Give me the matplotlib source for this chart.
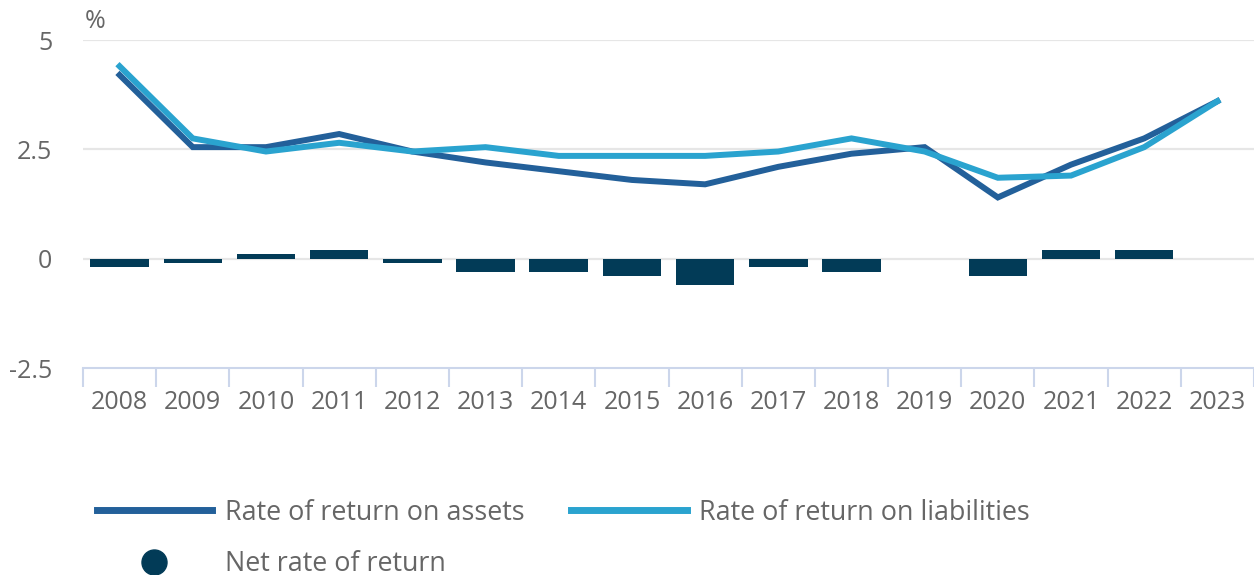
import numpy as np
import matplotlib
matplotlib.use('Agg')
import matplotlib.pyplot as plt
from matplotlib.lines import Line2D

plt.rcParams['font.family'] = ['Open Sans', 'DejaVu Sans']
plt.rcParams['font.size'] = 18

years = ['2008', '2009', '2010', '2011', '2012', '2013', '2014', '2015',
         '2016', '2017', '2018', '2019', '2020', '2021', '2022', '2023']
assets = [4.2, 2.55, 2.55, 2.85, 2.45, 2.2, 2.0, 1.8, 1.7, 2.1, 2.4, 2.55, 1.4, 2.15, 2.75, 3.6]
liabilities = [4.4, 2.75, 2.45, 2.65, 2.45, 2.55, 2.35, 2.35, 2.35, 2.45, 2.75, 2.45, 1.85, 1.9, 2.55, 3.6]
net = [-0.2, -0.1, 0.1, 0.2, -0.1, -0.3, -0.3, -0.4, -0.6, -0.2, -0.3, 0.0, -0.4, 0.2, 0.2, np.nan]

c_assets = '#23609a'
c_liab = '#2aa3cf'
c_net = '#023b57'
grid_c = '#e6e6e6'
axis_c = '#ccd6eb'
text_c = '#666666'

fig = plt.figure(figsize=(12.54, 5.75), dpi=100)
ax = fig.add_axes([83/1254, 1 - 368/575, 1 - 83/1254, (368 - 40)/575])

x = np.arange(len(years))

ax.bar(x, net, width=0.8, color=c_net, zorder=2)
ax.plot(x, assets, color=c_assets, lw=4.3, zorder=3, solid_joinstyle='miter')
ax.plot(x, liabilities, color=c_liab, lw=4.3, zorder=4, solid_joinstyle='miter')

ax.set_xlim(-0.5, len(years) - 0.5)
ax.set_ylim(-2.5, 5)
ax.set_yticks([-2.5, 0, 2.5, 5])
ax.set_yticklabels(['-2.5', '0', '2.5', '5'])
for yv in [0, 2.5, 5]:
    ax.axhline(yv, color=grid_c, lw=1.6, zorder=1)

ax.set_xticks(x)
ax.set_xticklabels(years)
ax.set_xticks(np.arange(-0.5, len(years)), minor=True)
ax.tick_params(axis='x', which='major', length=0, pad=16, colors=text_c, labelsize=18)
ax.tick_params(axis='x', which='minor', length=14, width=1.5, color=axis_c)
ax.tick_params(axis='y', length=0, pad=22, colors=text_c, labelsize=18)

for s in ['top', 'right', 'left']:
    ax.spines[s].set_visible(False)
ax.spines['bottom'].set_color(axis_c)
ax.spines['bottom'].set_linewidth(1.5)

fig.text(85/1254, 1 - 22/575, '%', ha='left', va='center', color=text_c, fontsize=18)

h_assets = Line2D([], [], color=c_assets, lw=5)
h_liab = Line2D([], [], color=c_liab, lw=5)
h_net = Line2D([], [], color=c_net, lw=0, marker='o', markersize=18)
leg = fig.legend([h_assets, h_net, h_liab],
                 ['Rate of return on assets', 'Net rate of return', 'Rate of return on liabilities'],
                 ncol=2, loc='upper left', bbox_to_anchor=(75/1254, 1 - 477/575),
                 frameon=False, handlelength=4.3, handletextpad=0.45,
                 columnspacing=1.75, labelspacing=0.88, fontsize=19.4,
                 borderpad=0.3)
for t in leg.get_texts():
    t.set_color(text_c)

fig.savefig('out.png', dpi=100)
